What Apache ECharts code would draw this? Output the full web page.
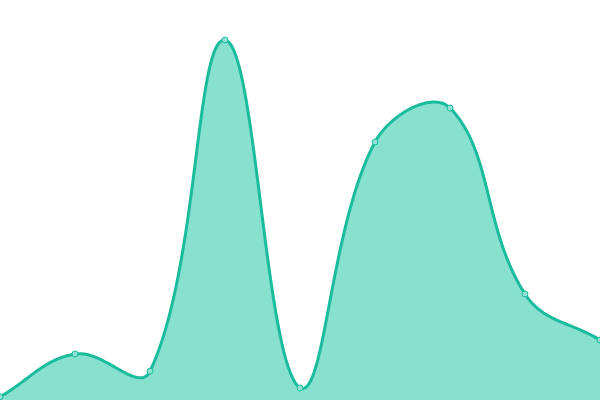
<!DOCTYPE html>
<html><head><meta charset="utf-8">
<script src="https://cdn.jsdelivr.net/npm/echarts@6/dist/echarts.min.js"></script>
<style>html,body{margin:0;padding:0;background:#fff}#c{width:600px;height:400px}</style>
</head><body><div id="c"></div>
<script>
const categories = ['1','2','3','4','5','6','7','8','9'];
const values = [0.8, 11.5, 7.2, 90, 3, 64.5, 73, 26.5, 15];
const TENSION = 0.4;

function controlPoints(pts, rect) {
  const n = pts.length, cps = [];
  const cap = (p) => [Math.min(Math.max(p[0], rect.x), rect.x + rect.width),
                      Math.min(Math.max(p[1], rect.y), rect.y + rect.height)];
  for (let i = 0; i < n; i++) {
    const prev = pts[i - 1] || pts[i], cur = pts[i], next = pts[i + 1] || pts[i];
    const d01 = Math.hypot(cur[0] - prev[0], cur[1] - prev[1]);
    const d12 = Math.hypot(next[0] - cur[0], next[1] - cur[1]);
    let s01 = d01 / (d01 + d12), s12 = d12 / (d01 + d12);
    if (isNaN(s01)) s01 = 0; if (isNaN(s12)) s12 = 0;
    const fa = TENSION * s01, fb = TENSION * s12;
    cps.push({
      prev: cap([cur[0] - fa * (next[0] - prev[0]), cur[1] - fa * (next[1] - prev[1])]),
      next: cap([cur[0] + fb * (next[0] - prev[0]), cur[1] + fb * (next[1] - prev[1])])
    });
  }
  return cps;
}

function sampleCurve(pts, cps) {
  const out = [pts[0]];
  const N = 40;
  for (let i = 0; i < pts.length - 1; i++) {
    const p0 = pts[i], p1 = cps[i].next, p2 = cps[i + 1].prev, p3 = pts[i + 1];
    for (let k = 1; k <= N; k++) {
      const t = k / N, u = 1 - t;
      const a = u * u * u, b = 3 * u * u * t, c = 3 * u * t * t, d = t * t * t;
      out.push([a * p0[0] + b * p1[0] + c * p2[0] + d * p3[0],
                a * p0[1] + b * p1[1] + c * p2[1] + d * p3[1]]);
    }
  }
  return out;
}

const chart = echarts.init(document.getElementById('c'));
chart.setOption({
  animation: false,
  grid: {left: 0, right: 0, top: 0, bottom: 0},
  xAxis: {type: 'category', data: categories, boundaryGap: false, show: false},
  yAxis: {type: 'value', min: 0, max: 100, show: false},
  series: [{
    type: 'custom',
    data: values.map((v, i) => [i, v]),
    encode: {x: 0, y: 1},
    clip: true,
    renderItem: function (params, api) {
      if (params.dataIndex !== 0) return null;
      const rect = params.coordSys;
      const pts = values.map((v, i) => api.coord([i, v]));
      const curve = sampleCurve(pts, controlPoints(pts, rect));
      const base0 = api.coord([0, 0]), base1 = api.coord([values.length - 1, 0]);
      const poly = curve.concat([[base1[0], base1[1]], [base0[0], base0[1]]]);
      return {
        type: 'group',
        children: [
          {type: 'polygon', shape: {points: poly}, style: {fill: '#88e0cf', stroke: null}},
          {type: 'polyline', shape: {points: curve}, style: {fill: null, stroke: '#1abc9c', lineWidth: 3, lineJoin: 'round'}}
        ]
      };
    }
  }, {
    type: 'scatter',
    data: values.map((v, i) => [i, v]),
    symbol: 'circle',
    symbolSize: 6,
    z: 5,
    itemStyle: {color: '#8fe2d2', borderColor: '#1abc9c', borderWidth: 1, opacity: 1}
  }]
});
</script></body></html>
